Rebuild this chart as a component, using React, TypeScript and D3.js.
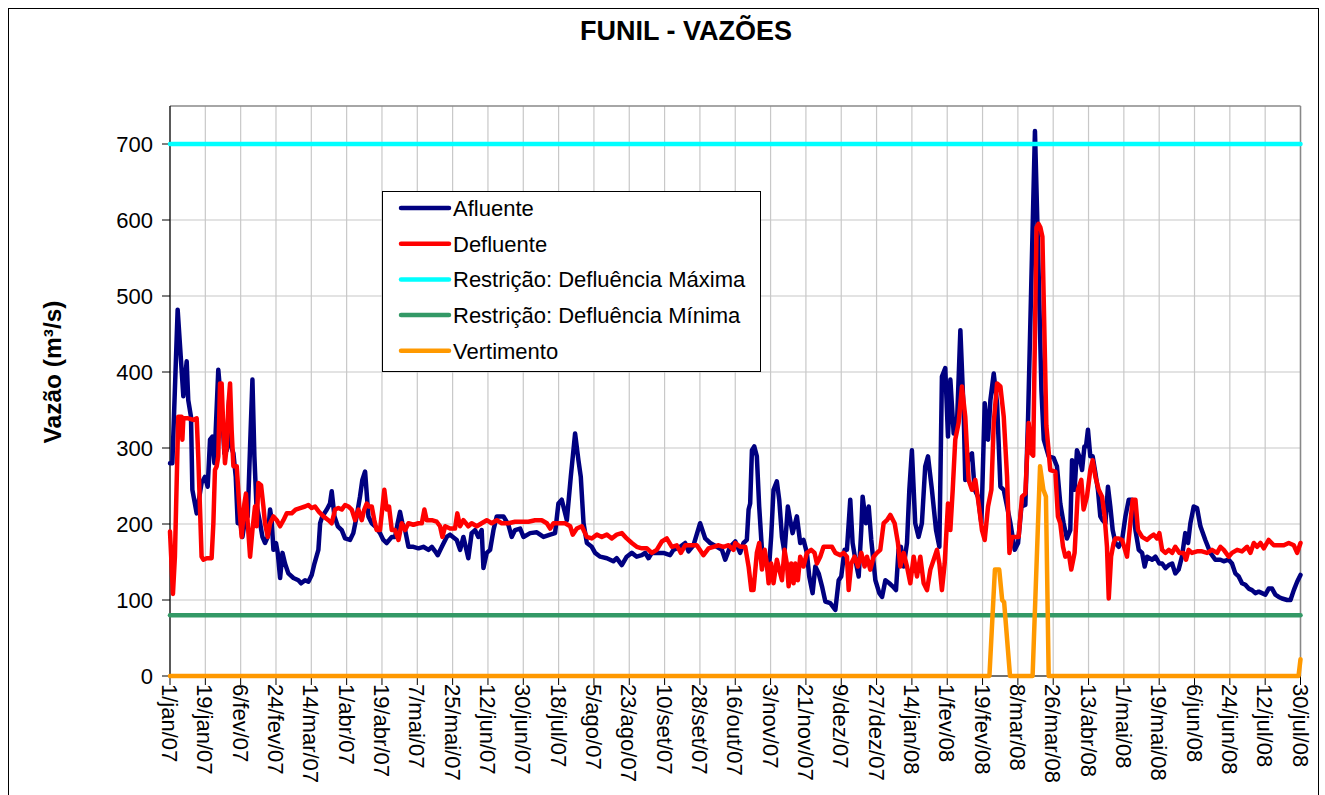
import React from "react";
import * as d3 from "d3";

const tickLabels = [
  "1/jan/07", "19/jan/07", "6/fev/07", "24/fev/07", "14/mar/07", "1/abr/07", "19/abr/07",
  "7/mai/07", "25/mai/07", "12/jun/07", "30/jun/07", "18/jul/07", "5/ago/07", "23/ago/07",
  "10/set/07", "28/set/07", "16/out/07", "3/nov/07", "21/nov/07", "9/dez/07", "27/dez/07",
  "14/jan/08", "1/fev/08", "19/fev/08", "8/mar/08", "26/mar/08", "13/abr/08", "1/mai/08",
  "19/mai/08", "6/jun/08", "24/jun/08", "12/jul/08", "30/jul/08",
];
const tickStepDays = 18;
const yTicks = [0, 100, 200, 300, 400, 500, 600, 700];

// [day since 1/jan/07, m³/s]
const afluente: [number, number][] = [
  [0,280],[1.2,280],[3.9,482],[6.8,368],[8.5,414],[9.3,363],[10.7,341],[11.4,245],[13.6,214],[16.1,254],[17.8,262],[19.2,249],[20.4,311],[21.6,315],[22.6,280],[24.6,403],[25.5,376],[26.7,341],[27.7,293],[28.9,297],[30.1,363],[31.1,302],[32.3,293],[33.5,262],[34.5,201],[35.7,205],[36.9,183],[38.2,205],[39.6,210],[40.8,302],[42.0,390],[43.0,289],[44.0,227],[45.9,201],[47.1,183],[48.4,175],[49.8,183],[51.0,219],[51.8,205],[52.7,166],[54.0,175],[54.9,162],[56.1,129],[57.3,162],[58.6,148],[60.3,135],[62.9,129],[65.4,126],[66.8,122],[68.8,126],[70.5,124],[72.2,133],[73.6,148],[75.6,166],[76.5,201],[77.6,210],[79.9,219],[81.5,227],[82.4,243],[83.8,210],[85.5,197],[87.5,192],[89.2,181],[91.7,179],[93.4,188],[95.1,210],[96.8,236],[98.0,258],[99.4,269],[101.1,210],[102.8,201],[104.5,197],[107.0,188],[108.7,179],[110.4,175],[113.0,183],[114.7,183],[116.0,201],[117.2,216],[118.4,201],[119.8,192],[121.5,170],[124.0,170],[126.6,168],[129.1,170],[131.7,166],[133.4,170],[135.1,164],[136.4,159],[138.5,170],[141.0,183],
  [142.7,186],[146.1,179],[147.8,166],[149.5,183],[152.0,155],[153.7,188],[155.4,192],[157.1,183],[158.8,192],[159.7,142],[161.4,162],[163.1,166],[164.8,192],[166.5,210],[169.9,210],[172.4,199],[174.1,183],[175.8,192],[178.4,194],[180.1,183],[183.5,188],[186.9,189],[190.3,183],[193.7,186],[196.2,188],[197.9,227],[199.6,232],[202.2,205],[204.2,262],[206.4,319],[208.1,284],[209.3,262],[210.7,201],[212.4,175],[214.9,170],[216.6,162],[219.2,157],[222.6,155],[225.9,151],[227.6,155],[230.2,146],[232.7,157],[235.3,162],[237.8,157],[240.4,159],[242.1,162],[243.8,155],[245.5,162],[248.0,162],[251.4,162],[254.8,159],[256.5,166],[259.9,170],[262.5,175],[264.2,164],[266.7,172],[270.1,201],[272.7,181],[275.2,175],[278.6,170],[281.2,166],[282.9,153],[285.4,170],[288.0,177],
  [290.5,162],[292.2,175],[293.9,179],[294.8,219],[295.6,227],[296.5,297],[297.7,302],[299.0,289],[300.2,223],[301.6,166],[303.3,153],[305.0,135],[306.3,183],[307.5,245],[309.2,256],[310.4,232],[311.8,183],[313.1,162],[314.8,223],[316.0,205],[317.2,188],[319.4,210],[321.1,175],[322.8,179],[324.5,162],[325.7,131],[327.4,109],[328.8,144],[330.5,135],[332.2,118],[333.9,98],[336.4,96],[339.0,87],[340.7,126],[342.0,131],[343.7,166],[344.9,166],[346.6,232],[347.8,175],[349.2,153],[350.9,131],[352.2,192],[352.9,236],[354.6,201],[356.0,223],[357.3,179],[359.4,126],[361.4,109],[362.8,104],[364.5,126],[366.5,122],[368.2,118],[369.9,113],[371.2,166],[372.4,170],[373.8,144],[375.5,175],[376.7,245],[378.0,297],[379.7,201],[381.4,183],[383.1,201],[384.8,276],[386.2,289],[388.2,245],[390.3,192],[392.0,170],[393.3,394],[395.0,405],[396.4,315],[397.6,390],[399.3,319],[401.0,333],[402.7,455],[404.4,346],[405.2,258],[406.9,289],[408.6,293],[410.0,245],[411.7,236],[413.4,201],[415.1,359],[416.8,311],[418.0,363],[419.7,398],[421.4,359],[423.1,249],[424.8,245],[426.5,223],[428.2,201],[430.4,166],[432.1,175],[433.8,223],[435.8,225],[437.2,340],[440.7,717],[442.3,560],[444.0,376],[445.2,311],[447.7,289],[450.2,287],
  [451.9,276],[453.6,227],[455.3,201],[457.0,181],[458.7,192],[459.6,284],[460.9,245],[462.1,297],[463.3,289],[464.7,271],[465.9,302],[466.7,302],[467.7,324],[468.9,289],[470.1,289],[471.5,267],[472.8,245],[474.0,210],[475.2,205],[476.6,201],[477.9,249],[479.1,223],[480.3,192],[481.7,175],[483.4,170],[485.1,179],[486.8,210],[488.5,232],[490.2,232],[491.9,192],[493.6,166],[495.3,162],[496.6,144],[497.8,157],[500.4,153],[502.1,157],[504.1,148],[505.5,148],[507.2,142],[508.9,146],[510.6,148],[512.2,135],[513.9,140],[515.6,157],[517.3,188],[518.7,175],[519.9,201],[521.6,223],[523.3,221],[525.0,197],[527.5,179],[530.1,162],[532.6,153],[535.2,153],[536.9,151],[539.4,153],[541.1,148],[542.8,135],[544.5,131],[546.2,122],[547.9,120],[549.6,115],[551.3,113],[553.0,109],[554.7,111],[556.4,109],[558.1,107],[559.8,115],[561.5,115],[563.2,107],[564.9,104],[566.6,102],[569.2,100],[570.9,100],[572.6,113],[574.3,124],[576.0,133],
];

const defluente: [number, number][] = [
  [0,190],[1.5,108],[2.5,157],[4.2,341],[5.9,341],[6.3,311],[6.8,339],[9.3,339],[11.9,337],[13.6,339],[14.4,289],[16.1,157],[17.0,153],[18.7,155],[21.2,155],[22.1,201],[22.9,271],[23.8,276],[24.6,289],[25.5,385],[26.3,385],[27.2,324],[28.0,280],[28.9,302],[29.7,354],[30.6,385],[31.4,324],[32.3,276],[34.0,276],[35.2,227],[36.5,183],[37.9,227],[38.7,240],[39.6,201],[40.8,157],[42.0,192],[43.3,223],[44.2,197],[45.0,254],[46.4,251],[47.6,223],[48.4,201],[49.8,183],[51.0,201],[52.7,210],[54.4,205],[56.1,197],[57.8,205],[59.5,214],[62.0,214],[64.0,219],[66.3,221],[68.8,223],[70.5,225],[72.2,221],[73.9,223],[75.9,216],[78.2,210],[80.7,205],[82.4,201],[84.1,219],[85.8,221],[87.5,219],[89.2,225],[90.9,223],[92.6,219],[94.3,205],[96.0,219],[97.7,205],[99.0,219],[100.2,227],[101.4,223],[102.8,223],[104.1,205],[105.3,192],[107.0,192],[109.2,245],[110.4,219],[111.6,223],[113.0,192],[114.7,192],[116.4,179],[118.1,201],[119.8,192],[121.5,201],[124.0,199],[126.6,201],[128.3,201],[129.6,219],[130.8,205],[133.4,205],[135.9,203],[137.6,197],[138.8,183],[140.2,197],[142.7,194],
  [145.2,194],[146.4,214],[147.8,197],[149.5,205],[152.0,197],[153.7,201],[156.3,197],[158.8,201],[161.4,205],[163.9,201],[166.5,205],[169.0,201],[172.4,201],[175.8,203],[179.2,203],[182.6,203],[186.0,205],[189.4,205],[192.0,201],[193.7,194],[195.4,201],[198.8,201],[201.3,201],[203.9,197],[205.2,186],[207.3,194],[209.8,197],[212.4,183],[214.9,181],[217.5,186],[220.0,183],[222.6,186],[225.1,181],[227.6,186],[230.2,188],[232.7,181],[235.3,175],[237.8,170],[240.4,168],[243.0,168],[245.5,162],[248.0,166],[250.6,177],[253.1,181],[255.7,170],[258.2,172],[260.3,162],[262.5,172],[265.0,172],[268.4,172],[271.8,159],[274.4,168],[276.9,170],[279.5,172],[282.0,170],[284.6,172],[287.1,166],[288.0,175],
  [290.5,170],[293.1,170],[294.8,144],[296.2,113],[297.3,113],[299.0,162],[300.2,175],[301.6,140],[303.0,166],[304.1,148],[305.0,122],[306.3,148],[307.5,122],[309.2,153],[310.4,140],[311.8,126],[313.1,166],[314.3,148],[315.2,118],[316.5,148],[317.7,122],[318.6,148],[319.9,126],[321.1,157],[322.8,144],[324.5,162],[326.7,166],[328.4,162],[329.6,148],[331.3,157],[333.0,170],[335.6,170],[337.3,170],[339.0,162],[341.5,159],[343.2,162],[344.9,157],[345.8,113],[347.1,148],[348.8,157],[350.5,144],[352.2,162],[353.9,144],[355.1,157],[356.8,140],[358.5,157],[360.2,162],[361.9,166],[363.6,201],[365.3,205],[367.0,212],[369.2,201],[370.9,175],[372.1,144],[373.8,162],[375.5,144],[377.2,122],[378.9,157],[380.6,131],[382.3,157],[384.0,122],[385.7,113],[387.4,140],[389.1,153],[390.8,166],[392.0,148],[393.3,113],[394.7,148],[396.4,227],[397.6,192],[398.8,245],[400.1,311],[401.8,333],[403.5,381],[405.2,341],[406.9,258],[408.6,245],[410.3,258],[412.0,227],[413.7,192],[415.1,179],[416.8,223],[418.5,245],[419.7,333],[421.4,385],[423.1,381],[424.8,341],[426.5,262],[427.7,162],[429.0,183],[431.6,183],[432.4,183],[434.1,236],[435.8,240],[437.5,333],[438.9,293],[439.8,290],[441.5,590],[442.5,595],[443.5,590],[444.5,578],[446.5,330],[448.5,271],
  [451.1,269],[452.4,210],[453.6,201],[455.0,170],[456.2,157],[457.9,162],[459.2,140],[460.9,162],[462.6,245],[464.3,258],[465.5,219],[467.2,236],[468.9,271],[470.1,284],[471.5,262],[473.2,245],[474.9,236],[476.2,210],[477.4,170],[478.3,102],[479.5,157],[480.8,175],[481.7,181],[483.4,181],[485.1,179],[487.6,157],[489.3,201],[490.5,232],[491.9,232],[493.2,192],[495.3,183],[497.8,179],[499.5,183],[501.2,186],[502.9,181],[504.1,188],[505.5,166],[507.2,162],[508.9,166],[510.6,162],[512.2,170],[514.3,162],[516.5,162],[517.7,153],[519.0,166],[520.7,162],[523.3,164],[525.8,164],[528.4,162],[530.9,166],[533.5,162],[535.2,170],[536.9,166],[539.4,157],[541.1,162],[543.7,166],[546.2,164],[548.8,170],[550.5,162],[552.2,175],[553.9,170],[555.6,175],[557.3,168],[559.8,179],[562.4,172],[564.9,172],[567.5,172],[570.0,175],[572.6,172],[574.3,162],[576.0,175],
];

const vertimento: [number, number][] = [
  [0,0],[417.5,0],[420.3,140],[422.5,140],[424,100],[425,97],[428,0],
  [439.5,0],[443.3,276],[445,245],[446.3,236],[447.7,0],[575,0],[576,22],
];

const restricaoMax = 700;
const restricaoMin = 80;
const totalDays = 576;

const series = [
  { name: "Afluente", color: "#000080" },
  { name: "Defluente", color: "#FF0000" },
  { name: "Restrição: Defluência Máxima", color: "#00FFFF" },
  { name: "Restrição: Defluência Mínima", color: "#339966" },
  { name: "Vertimento", color: "#FF9900" },
];

const FONT = "'Liberation Sans', Arial, Helvetica, sans-serif";

export default function App() {
  const left = 170, right = 1300.5, top = 106, bottom = 676;
  const x = d3.scaleLinear().domain([0, totalDays]).range([left, right]);
  const y = d3.scaleLinear().domain([0, 750]).range([bottom, top]);
  const line = d3.line<[number, number]>().x((d) => x(d[0])).y((d) => y(d[1]));
  const ticks = tickLabels.map((_, i) => i * tickStepDays);
  const lw = 4.5;

  return (
    <svg
      width={1325}
      height={795}
      style={{ position: "absolute", left: 0, top: 0, background: "#fff" }}
      fontFamily={FONT}
    >
      <rect x={0} y={0} width={1325} height={795} fill="#fff" />
      <rect x={8.5} y={8.5} width={1310} height={800} fill="none" stroke="#000" strokeWidth={1} />
      <text x={686} y={40} textAnchor="middle" fontSize={27} fontWeight="bold">FUNIL - VAZÕES</text>
      <text
        transform={`translate(61,372) rotate(-90)`}
        textAnchor="middle"
        fontSize={24.5}
        fontWeight="bold"
      >Vazão (m³/s)</text>

      {/* grid */}
      {yTicks.map((t) => (
        <line key={"hy" + t} x1={left} x2={right} y1={y(t)} y2={y(t)} stroke="#c8c8c8" strokeWidth={1.2} />
      ))}
      {ticks.map((t) => (
        <line key={"vx" + t} x1={x(t)} x2={x(t)} y1={top} y2={bottom} stroke="#c8c8c8" strokeWidth={1.2} />
      ))}
      <line x1={left} x2={right} y1={top} y2={top} stroke="#888" strokeWidth={1.5} />
      <line x1={right} x2={right} y1={top} y2={bottom} stroke="#888" strokeWidth={1.5} />

      {/* axes */}
      <line x1={left} x2={left} y1={top} y2={bottom} stroke="#000" strokeWidth={1.2} />
      <line x1={left} x2={right} y1={bottom} y2={bottom} stroke="#000" strokeWidth={1.2} />
      {yTicks.map((t) => (
        <g key={"yt" + t}>
          <line x1={left - 8} x2={left} y1={y(t)} y2={y(t)} stroke="#000" />
          <text x={153} y={y(t) + 8} textAnchor="end" fontSize={22}>{t}</text>
        </g>
      ))}
      {ticks.map((t, i) => (
        <g key={"xt" + t}>
          <line x1={x(t)} x2={x(t)} y1={bottom} y2={bottom + 9} stroke="#000" />
          <text
            transform={`translate(${x(t) - 8},${bottom + 8}) rotate(90)`}
            fontSize={22}
          >{tickLabels[i]}</text>
        </g>
      ))}

      {/* series */}
      <path d={line(afluente) || ""} fill="none" stroke="#000080" strokeWidth={lw} strokeLinejoin="round" strokeLinecap="round" />
      <path d={line(defluente) || ""} fill="none" stroke="#FF0000" strokeWidth={lw} strokeLinejoin="round" strokeLinecap="round" />
      <path d={line([[0, restricaoMax], [totalDays, restricaoMax]]) || ""} fill="none" stroke="#00FFFF" strokeWidth={lw} strokeLinecap="round" />
      <path d={line([[0, restricaoMin], [totalDays, restricaoMin]]) || ""} fill="none" stroke="#339966" strokeWidth={lw} strokeLinecap="round" />
      <path d={line(vertimento) || ""} fill="none" stroke="#FF9900" strokeWidth={lw} strokeLinejoin="round" strokeLinecap="round" />

      {/* legend */}
      <rect x={382.5} y={191.5} width={378} height={180} fill="#fff" stroke="#000" strokeWidth={1} />
      {series.map((s, i) => {
        const cy = 208 + i * 35.7;
        return (
          <g key={s.name}>
            <line x1={401} x2={449} y1={cy} y2={cy} stroke={s.color} strokeWidth={4.5} strokeLinecap="round" />
            <text x={453} y={cy + 8} fontSize={22}>{s.name}</text>
          </g>
        );
      })}
    </svg>
  );
}
